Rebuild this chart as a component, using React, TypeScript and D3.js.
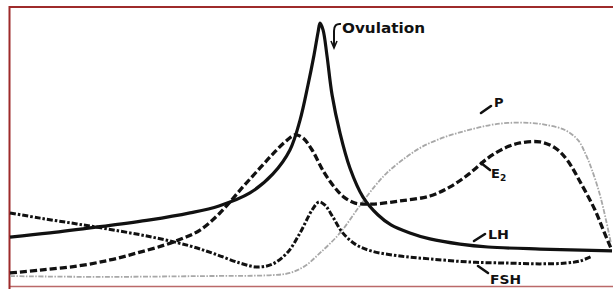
import React from "react";
import * as d3 from "d3";

// Days of a 28-day cycle and relative hormone levels (0-100)
const lhDays = [0, 1.86, 4.09, 6.51, 8.37, 9.72, 11.16, 12.23, 13.02, 13.49, 13.86, 14.14, 14.33, 14.42, 14.56, 14.74, 14.98, 15.35, 15.81, 16.42, 17.12, 17.72, 18.6, 19.53, 20.93, 22.23, 24.65, 28];
const lhValues = [16.5, 18.1, 20.4, 23.1, 25.8, 28.5, 33.5, 40.8, 50, 61.5, 75, 86.5, 95.4, 98.8, 96.2, 86.5, 71.2, 56.5, 43.1, 31.9, 25, 21.2, 18.1, 15.8, 13.8, 12.7, 11.9, 11.2];

const e2Days = [0, 1.4, 3.16, 4.65, 5.91, 7.21, 8.09, 8.84, 9.72, 10.79, 11.63, 12.23, 12.79, 13.26, 13.63, 14.05, 14.6, 15.12, 15.53, 16.05, 16.84, 18.14, 19.53, 20.47, 21.35, 22.23, 23.02, 23.72, 24.65, 25.35, 25.91, 26.6, 27.21, 27.63, 27.95];
const e2Values = [2.7, 3.8, 5.4, 7.7, 10.4, 13.5, 16.2, 19.2, 25.4, 35.4, 43.1, 48.5, 53.1, 55.8, 54.6, 50, 41.5, 35.4, 31.9, 29.6, 29.2, 30.4, 32.3, 35.8, 40.8, 46.9, 50.8, 52.7, 53.1, 50.8, 46.2, 36.5, 26.9, 18.5, 12.3];

const fshDays = [0, 1.4, 3.16, 5.12, 6.79, 8.37, 9.53, 10.7, 11.53, 12.23, 12.93, 13.49, 14.05, 14.37, 14.65, 15.02, 15.44, 16.05, 16.79, 18.14, 19.53, 21.4, 23.16, 24.65, 25.86, 26.51, 27.07];
const fshValues = [25.8, 23.8, 21.5, 18.8, 16.2, 13.1, 10, 6.5, 5, 6.2, 10.8, 18.1, 26.9, 30, 28.8, 24.2, 18.5, 13.8, 11.2, 9.2, 8.1, 6.9, 6.5, 6.2, 6.5, 7.3, 9.2];

const pDays = [0, 4.19, 8.84, 12.23, 13.02, 13.72, 14.42, 15.35, 16.23, 16.98, 17.53, 18.37, 19.16, 20.23, 21.35, 22.33, 23.16, 24.19, 24.98, 25.81, 26.42, 26.79, 27.07, 27.44, 27.72, 27.95];
const pValues = [1.5, 1.2, 1.5, 1.9, 2.7, 5.4, 10.4, 18.1, 28.1, 36.2, 41.2, 46.9, 51.2, 55, 57.7, 59.6, 60.4, 60.4, 59.6, 57.7, 53.8, 48.1, 42.3, 32.7, 23.1, 14.2];

const seriesLabels = ["LH", "FSH", "P", "E"];
const ovulationLabel = "Ovulation";

const W = 613;
const H = 289;

export default function App() {
  const x = d3.scaleLinear().domain([0, 28]).range([10, 612]);
  const y = d3.scaleLinear().domain([0, 100]).range([280, 20]);
  const line = d3
    .line<[number, number]>()
    .x((d) => x(d[0]))
    .y((d) => y(d[1]))
    .curve(d3.curveCatmullRom.alpha(0.5));
  const pts = (ds: number[], vs: number[]) => ds.map((d, i) => [d, vs[i]] as [number, number]);

  const font = "'DejaVu Sans', sans-serif";
  const red = "#9e2b2b";

  return (
    <svg
      width={W}
      height={H}
      style={{ position: "absolute", left: 0, top: 0, display: "block", background: "#fff" }}
    >
      {/* frame */}
      <line x1={9} y1={7} x2={613} y2={7} stroke={red} strokeWidth={2} />
      <line x1={9.5} y1={6} x2={9.5} y2={289} stroke={red} strokeWidth={2} />
      <line x1={9} y1={286.5} x2={613} y2={286.5} stroke={red} strokeWidth={1.5} opacity={0.7} />

      {/* P: light grey dotted */}
      <path d={line(pts(pDays, pValues)) || ""} fill="none" stroke="#a8a8a8" strokeWidth={1.8} strokeDasharray="5 1.5 1.5 1.5" />
      {/* FSH: dash-dot */}
      <path d={line(pts(fshDays, fshValues)) || ""} fill="none" stroke="#111" strokeWidth={3} strokeDasharray="6 2 2.5 2" />
      {/* E2: dashed */}
      <path d={line(pts(e2Days, e2Values)) || ""} fill="none" stroke="#111" strokeWidth={3.3} strokeDasharray="7 3" />
      {/* LH: solid */}
      <path d={line(pts(lhDays, lhValues)) || ""} fill="none" stroke="#111" strokeWidth={3.2} strokeLinejoin="round" />

      {/* Ovulation marker */}
      <path d="M341,24 Q334,23 334,31 L334,46" fill="none" stroke="#111" strokeWidth={2} />
      <path d="M331,41 L334,48 L337,41" fill="none" stroke="#111" strokeWidth={1.6} />
      <text x={342} y={33} fontFamily={font} fontWeight="bold" fontSize={14} textLength={83} lengthAdjust="spacingAndGlyphs" fill="#111">
        {ovulationLabel}
      </text>

      {/* series labels with leaders */}
      <g stroke="#111" strokeWidth={2.6} strokeLinecap="round">
        <line x1={481} y1={113} x2={491} y2={106} />
        <line x1={481} y1={163} x2={490} y2={170} />
        <line x1={474} y1={241} x2={485} y2={234} />
        <line x1={478} y1={266} x2={488} y2={273} />
      </g>
      <g fontFamily={font} fontWeight="bold" fill="#111">
        <text x={494} y={107} fontSize={13}>{seriesLabels[2]}</text>
        <text x={491} y={178} fontSize={13}>
          {seriesLabels[3]}
          <tspan fontSize={9} dy={3}>2</tspan>
        </text>
        <text x={488} y={239} fontSize={13} textLength={21} lengthAdjust="spacingAndGlyphs">{seriesLabels[0]}</text>
        <text x={490} y={284} fontSize={13} textLength={31} lengthAdjust="spacingAndGlyphs">{seriesLabels[1]}</text>
      </g>
    </svg>
  );
}
